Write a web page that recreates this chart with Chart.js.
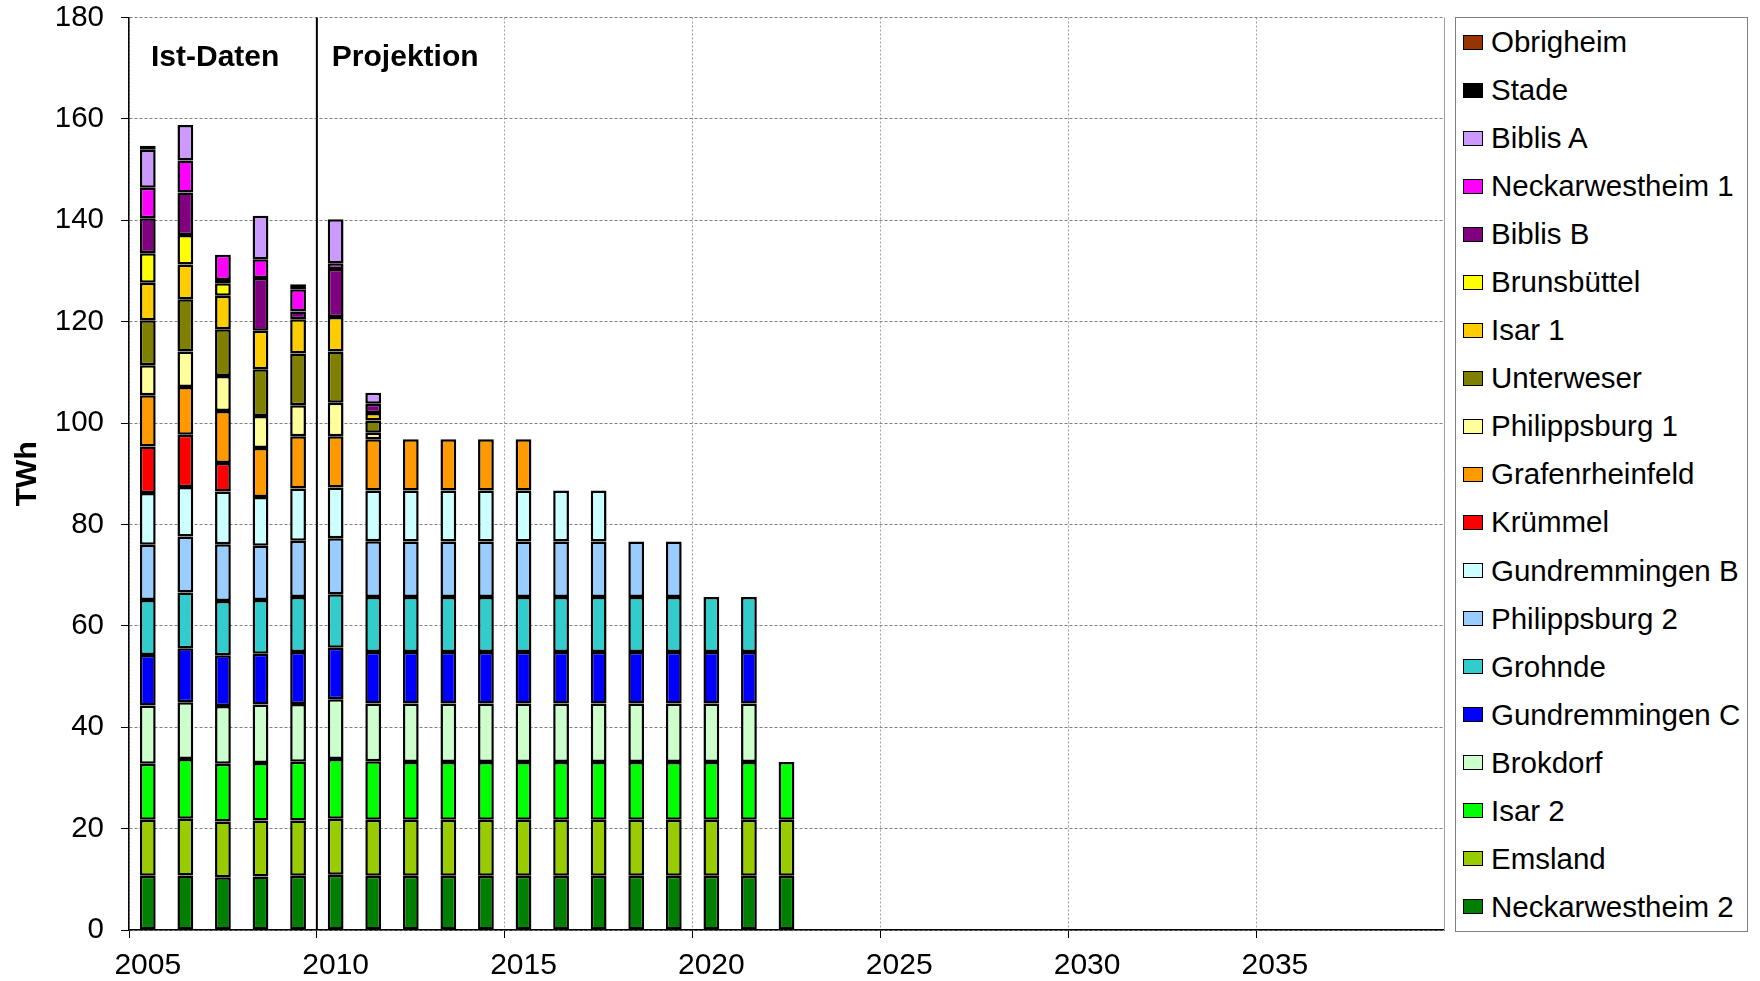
<!DOCTYPE html>
<html>
<head>
<meta charset="utf-8">
<script src="https://cdn.jsdelivr.net/npm/chart.js@4.4.1/dist/chart.umd.min.js"></script>
<style>
  body { margin: 0; background: #fff; }
  #wrap { position: relative; width: 1760px; height: 981px; }
  #chartCanvas { position: absolute; left: 0; top: 0; }
  #legend {
    position: absolute; left: 1455px; top: 17px; width: 293px; height: 915px;
    border: 1px solid #808080; box-sizing: border-box; background: #fff;
    font-family: "Liberation Sans", Arial, sans-serif; font-size: 29.5px; color: #000;
  }
  .item { height: 48.05px; display: flex; align-items: center; white-space: nowrap; }
  .sw { width: 20px; height: 15px; margin: 0 8px 0 7px; border: 1.5px solid #000; box-sizing: border-box; }
</style>
</head>
<body>
<div id="wrap">
  <canvas id="chartCanvas" width="1760" height="981"></canvas>
  <div id="legend"></div>
</div>
<script>
// --- data (TWh per plant and year, 2005-2011 actual, 2012+ projection) ---
const years = ["2005","2006","2007","2008","2009","2010","2011","2012","2013","2014",
  "2015","2016","2017","2018","2019","2020","2021","2022","2023","2024",
  "2025","2026","2027","2028","2029","2030","2031","2032","2033","2034",
  "2035","2036","2037","2038","2039"];

const neckarwestheim2 = [10.7, 10.75, 10.4, 10.55, 10.7, 10.9, 10.7, 10.7, 10.7, 10.7, 10.7, 10.7, 10.7, 10.7, 10.7, 10.7, 10.7, 10.7];
const emsland         = [11.05, 11.2, 11.0, 11.05, 10.9, 11.05, 11.05, 11.05, 11.05, 11.05, 11.05, 11.05, 11.05, 11.05, 11.05, 11.05, 11.05, 11.05];
const isar2           = [11.05, 11.8, 11.4, 11.35, 11.6, 11.8, 11.55, 11.4, 11.4, 11.4, 11.4, 11.4, 11.4, 11.4, 11.4, 11.4, 11.4, 11.4];
const brokdorf        = [11.5, 11.2, 11.4, 11.55, 11.4, 11.75, 11.4, 11.55, 11.55, 11.55, 11.55, 11.55, 11.55, 11.55, 11.55, 11.55, 11.55];
const gundremmingenC  = [9.95, 10.65, 10.0, 10.0, 10.25, 10.2, 10.15, 10.15, 10.15, 10.15, 10.15, 10.15, 10.15, 10.15, 10.15, 10.15, 10.15];
const grohnde         = [10.85, 11.0, 10.7, 10.6, 10.85, 10.55, 10.85, 10.85, 10.85, 10.85, 10.85, 10.85, 10.85, 10.85, 10.85, 10.85, 10.85];
const philippsburg2   = [10.9, 11.0, 11.2, 10.7, 11.1, 11.05, 11.0, 10.95, 10.95, 10.95, 10.95, 10.95, 10.95, 10.95, 10.95];
const gundremmingenB  = [10.2, 9.8, 10.4, 9.6, 10.3, 10.0, 10.0, 10.05, 10.05, 10.05, 10.05, 10.05, 10.05];
const kruemmel        = [9.2, 10.3, 5.6];
const grafenrheinfeld = [10.1, 9.4, 10.3, 9.7, 10.3, 10.1, 10.1, 10.1, 10.1, 10.1, 10.1];
const philippsburg1   = [5.9, 7.0, 6.9, 6.3, 6.1, 6.6, 1.3];
const unterweser      = [8.9, 10.3, 9.2, 9.2, 10.2, 10.1, 2.4];
const isar1           = [7.4, 6.9, 6.6, 7.6, 6.8, 6.8, 1.5];
const brunsbuettel    = [5.8, 5.8, 2.5];
const biblisB         = [6.9, 8.4, 0.6, 10.4, 1.5, 9.5, 1.8];
const neckarwestheim1 = [6.0, 6.3, 5.0, 3.7, 4.4, 1.1];
const biblisA         = [7.5, 7.0, 0, 8.6, 1.0, 8.7, 2.2];
const stade           = [0, 0, 0, 0, 0, 0, 0];
const obrigheim       = [0.8];

// stacking order bottom -> top
const plants = [
  { name: "Neckarwestheim 2", color: "#008000", data: neckarwestheim2 },
  { name: "Emsland",          color: "#99CC00", data: emsland },
  { name: "Isar 2",           color: "#00FF00", data: isar2 },
  { name: "Brokdorf",         color: "#CCFFCC", data: brokdorf },
  { name: "Gundremmingen C",  color: "#0000FF", data: gundremmingenC },
  { name: "Grohnde",          color: "#33CCCC", data: grohnde },
  { name: "Philippsburg 2",   color: "#99CCFF", data: philippsburg2 },
  { name: "Gundremmingen B",  color: "#CCFFFF", data: gundremmingenB },
  { name: "Krümmel",          color: "#FF0000", data: kruemmel },
  { name: "Grafenrheinfeld",  color: "#FF9900", data: grafenrheinfeld },
  { name: "Philippsburg 1",   color: "#FFFF99", data: philippsburg1 },
  { name: "Unterweser",       color: "#808000", data: unterweser },
  { name: "Isar 1",           color: "#FFCC00", data: isar1 },
  { name: "Brunsbüttel",      color: "#FFFF00", data: brunsbuettel },
  { name: "Biblis B",         color: "#800080", data: biblisB },
  { name: "Neckarwestheim 1", color: "#FF00FF", data: neckarwestheim1 },
  { name: "Biblis A",         color: "#CC99FF", data: biblisA },
  { name: "Stade",            color: "#000000", data: stade },
  { name: "Obrigheim",        color: "#993300", data: obrigheim }
];

const FONT = '"Liberation Sans", Arial, sans-serif';
Chart.defaults.font.family = FONT;
Chart.defaults.color = "#000";

// --- legend (top item = last stacked series) ---
const legend = document.getElementById("legend");
plants.slice().reverse().forEach(p => {
  const row = document.createElement("div");
  row.className = "item";
  const sw = document.createElement("span");
  sw.className = "sw";
  sw.style.background = p.color;
  row.appendChild(sw);
  row.appendChild(document.createTextNode(p.name));
  legend.appendChild(row);
});

// divider Ist-Daten / Projektion, plot frame and the two captions
const notes = {
  id: "notes",
  beforeDatasetsDraw(chart) {
    const { ctx, chartArea: a, scales: { x } } = chart;
    const split = (x.getPixelForValue(4) + x.getPixelForValue(5)) / 2;
    ctx.save();
    ctx.strokeStyle = "#a0a0a0";
    ctx.lineWidth = 1;
    ctx.beginPath();
    ctx.moveTo(a.right + 0.5, a.top);
    ctx.lineTo(a.right + 0.5, a.bottom);
    ctx.stroke();
    ctx.strokeStyle = "#000";
    ctx.lineWidth = 2;
    ctx.beginPath();
    ctx.moveTo(split, a.top);
    ctx.lineTo(split, a.bottom);
    ctx.stroke();
    ctx.font = "bold 30px " + FONT;
    ctx.fillStyle = "#000";
    ctx.textBaseline = "middle";
    ctx.fillText("Ist-Daten", a.left + 22, a.top + 40);
    ctx.fillText("Projektion", split + 15, a.top + 40);
    ctx.restore();
  }
};

const canvas = document.getElementById("chartCanvas");
new Chart(canvas, {
  type: "bar",
  data: {
    labels: years,
    datasets: plants.map(p => ({
      label: p.name,
      data: p.data,
      backgroundColor: p.color,
      borderColor: "#000",
      borderWidth: 2.5,
      borderSkipped: false,
      barPercentage: 0.42,
      categoryPercentage: 1
    }))
  },
  options: {
    responsive: false,
    animation: false,
    devicePixelRatio: 1,
    layout: { padding: { top: 0, right: 316, bottom: 0, left: 0 } },
    plugins: { legend: { display: false }, tooltip: { enabled: false } },
    scales: {
      x: {
        stacked: true,
        offset: true,
        grid: {
          offset: true,
          lineWidth: 1,
          color: c => (c.index % 5 === 0 && c.index !== 5) ? "#a0a0a0" : "rgba(0,0,0,0)",
          tickColor: c => c.index % 5 === 0 ? "#000" : "rgba(0,0,0,0)",
          tickLength: 8
        },
        border: { color: "#000", width: 1.5, dash: [2, 2] },
        ticks: {
          autoSkip: false, maxRotation: 0, minRotation: 0, padding: 10,
          font: { size: 30 },
          callback: (v, i) => i % 5 === 0 ? years[i] : ""
        },
        afterFit: s => { s.height = 51; }
      },
      y: {
        stacked: true,
        min: 0, max: 180,
        ticks: { stepSize: 20, padding: 17, font: { size: 29.5 } },
        grid: { color: "#808080", tickColor: "#000", tickLength: 8 },
        border: { color: "#000", width: 1.5, dash: [3, 2] },
        title: { display: true, text: "TWh", font: { size: 30, weight: "bold" }, padding: { top: 10, bottom: 0 } },
        afterFit: s => { s.width = 129; s.paddingTop = 17.5; s.paddingBottom = 0; }
      }
    }
  },
  plugins: [notes]
});
</script>
</body>
</html>
